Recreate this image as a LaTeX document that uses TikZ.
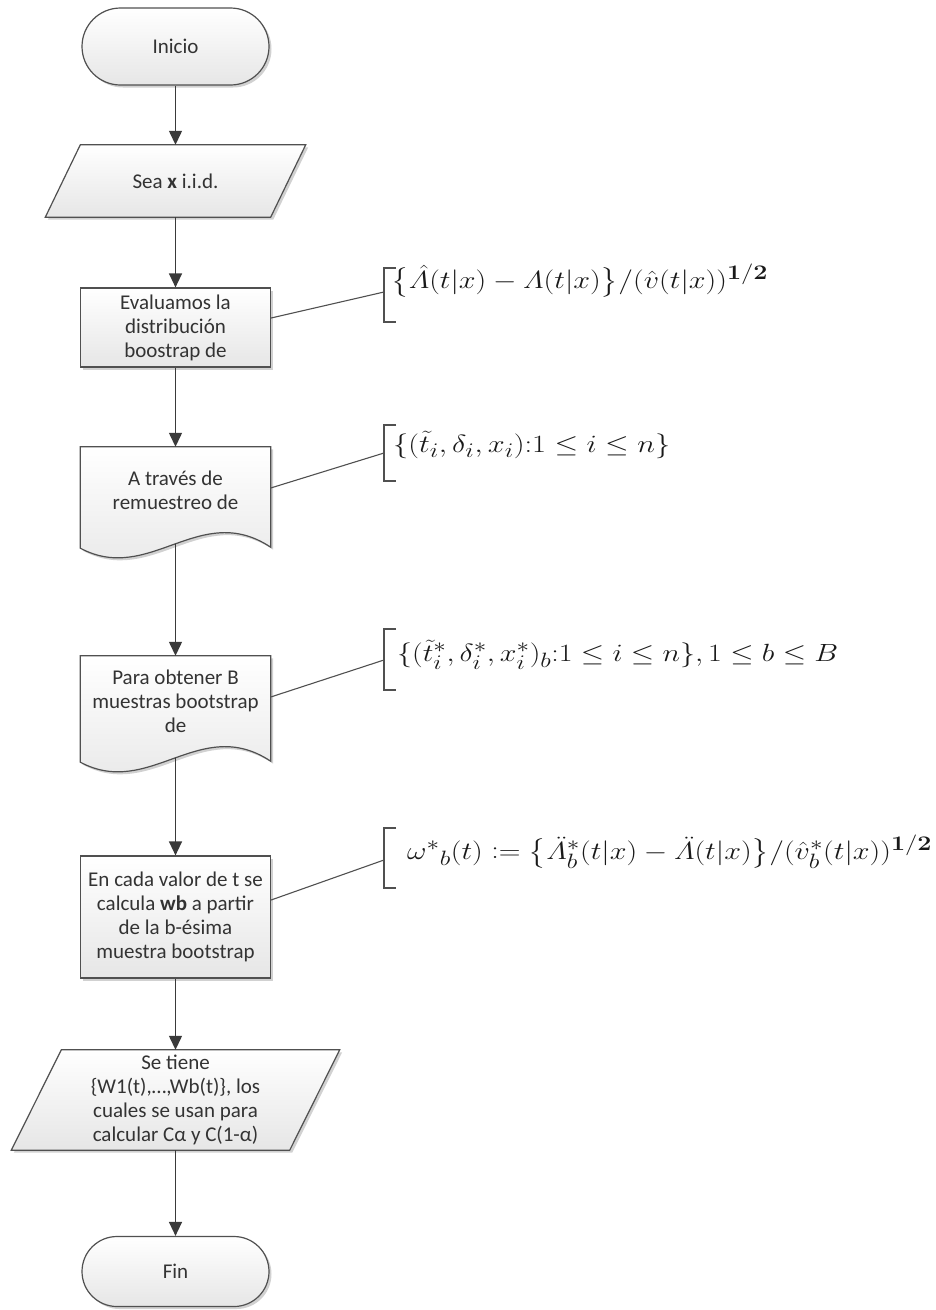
\documentclass[tikz,border=0pt]{standalone}
\usepackage{amsmath,graphicx}
\usepackage[no-math]{fontspec}
\newfontfamily\vis{Carlito}
\usetikzlibrary{arrows.meta,shadows,calc}
\pgfdeclarelayer{bg}
\pgfsetlayers{bg,main}
\definecolor{lnc}{HTML}{505050}
\definecolor{arc}{HTML}{3A3A3A}
\definecolor{txc}{HTML}{333333}
\definecolor{fillb}{HTML}{E6E6E6}
\begin{document}
\begin{tikzpicture}[x=1pt,y=-1pt,
  shp/.style={draw=lnc, line width=1.2pt, top color=white, bottom color=fillb,
    drop shadow={shadow xshift=2.5pt, shadow yshift=-2.5pt, fill=black, opacity=0.18}},
  txt/.style={font=\vis\fontsize{21}{24}\selectfont, text=txc, align=center, inner sep=2pt},
  term/.style={shp, txt, rectangle, rounded corners=38.5pt, minimum width=187pt, minimum height=77pt},
  boxs/.style={shp, txt, rectangle, minimum width=190pt},
  flow/.style={draw=arc, line width=1.3pt, -{Triangle[width=13pt,length=14pt]}},
  ann/.style={draw=lnc, line width=1.1pt},
  fm/.style={inner sep=0pt, font=\fontsize{24.88}{30}\selectfont, text=black!90, anchor=west}
]
\useasboundingbox (0,0) rectangle (935,1310);

% flow nodes
\node[term] (ini) at (175.5,46.5) {Inicio};
\node[txt, minimum width=225pt, minimum height=72pt] (sea) at (175.5,181) {Sea \textbf{x} i.i.d.};
\node[boxs, minimum height=79pt] (b1) at (175.5,327.5) {Evaluamos la\\distribución\\boostrap de};
\node[txt, minimum width=190pt, minimum height=86pt] (d1) at (175.5,490) {A través de\\remuestreo de};
\node[txt, minimum width=190pt, minimum height=91pt] (d2) at (175.5,701.5) {Para obtener B\\muestras bootstrap\\de};
\node[boxs, minimum height=122pt] (b4) at (175.5,917) {En cada valor de t se\\calcula \textbf{wb} a partir\\de la b-ésima\\muestra bootstrap};
\node[txt, minimum width=278pt, minimum height=100pt] (st) at (175.5,1100) {Se tiene\\\{W1(t),…,Wb(t)\}, los\\cuales se usan para\\calcular Cα y C(1-α)};
\node[term, minimum height=70pt, rounded corners=35pt] (fin) at (175.5,1271.5) {Fin};

% shapes drawn behind text
\begin{pgfonlayer}{bg}
\path[shp] ([xshift=17.5pt]sea.north west) -- ([xshift=17.5pt]sea.north east)
  -- ([xshift=-17.5pt]sea.south east) -- ([xshift=-17.5pt]sea.south west) -- cycle;
\path[shp] ([xshift=25pt]st.north west) -- ([xshift=25pt]st.north east)
  -- ([xshift=-25pt]st.south east) -- ([xshift=-25pt]st.south west) -- cycle;
\path[shp] (d1.north west) -- (d1.north east) -- ($(d1.south east)+(0,14)$)
  .. controls ($(d1.south west)+(119.5,-33)$) and ($(d1.south west)+(69.5,52)$) .. ($(d1.south west)+(0,15)$) -- cycle;
\path[shp] (d2.north west) -- (d2.north east) -- ($(d2.south east)+(0,14)$)
  .. controls ($(d2.south west)+(119.5,-33)$) and ($(d2.south west)+(69.5,52)$) .. ($(d2.south west)+(0,15)$) -- cycle;
\end{pgfonlayer}

% connectors
\draw[flow] (ini.south) -- (sea.north);
\draw[flow] (sea.south) -- (b1.north);
\draw[flow] (b1.south) -- (d1.north);
\draw[flow] ($(d1.south)+(0,11)$) -- (d2.north);
\draw[flow] ($(d2.south)+(0,11)$) -- (b4.north);
\draw[flow] (b4.south) -- (st.north);
\draw[flow] (st.south) -- (fin.north);

% annotation brackets
\coordinate (kt1) at (384,268); \coordinate (kb1) at (384,322); \coordinate (k1) at (384,292);
\coordinate (kt2) at (384,425); \coordinate (kb2) at (384,481); \coordinate (k2) at (384,453);
\coordinate (kt3) at (384,629); \coordinate (kb3) at (384,690); \coordinate (k3) at (384,660);
\coordinate (kt4) at (384,828); \coordinate (kb4) at (384,888); \coordinate (k4) at (384,860);
\foreach \i in {1,2,3,4}{
  \draw[ann] ($(kt\i)+(12,0)$) -- (kt\i) -- (kb\i) -- ($(kb\i)+(12,0)$);
}
\draw[ann] ($(b1.east)+(0,-9.5)$) -- (k1);
\draw[ann] ($(d1.east)+(0,-2)$) -- (k2);
\draw[ann] ($(d2.east)+(0,-4.5)$) -- (k3);
\draw[ann] ($(b4.east)+(0,-17)$) -- (k4);

% formulas
\node[fm] (f1) at (391,281) {\resizebox{377pt}{\height}{$\bigl\{\hat{\varLambda}(t|x)-\varLambda(t|x)\bigr\}/(\hat{v}(t|x))^{\mathbf{1/2}}$}};
\node[fm] (f2) at (393,445) {\resizebox{277pt}{\height}{$\{(\tilde{t}_{i},\delta_{i},x_{i}){:}1\le i\le n\}$}};
\node[fm] (f3) at (397,655) {\resizebox{441pt}{\height}{$\{(\tilde{t}^{*}_{i},\delta^{*}_{i},x^{*}_{i})_{b}{:}1\le i\le n\},1\le b\le B$}};
\node[fm] (f4) at (407,852) {\resizebox{525pt}{\height}{$\omega^{*}{}_{b}(t)\mathrel{\mathop:}=\bigl\{\ddot{\varLambda}^{*}_{b}(t|x)-\ddot{\varLambda}(t|x)\bigr\}/(\hat{v}^{*}_{b}(t|x))^{\mathbf{1/2}}$}};
\end{tikzpicture}
\end{document}
